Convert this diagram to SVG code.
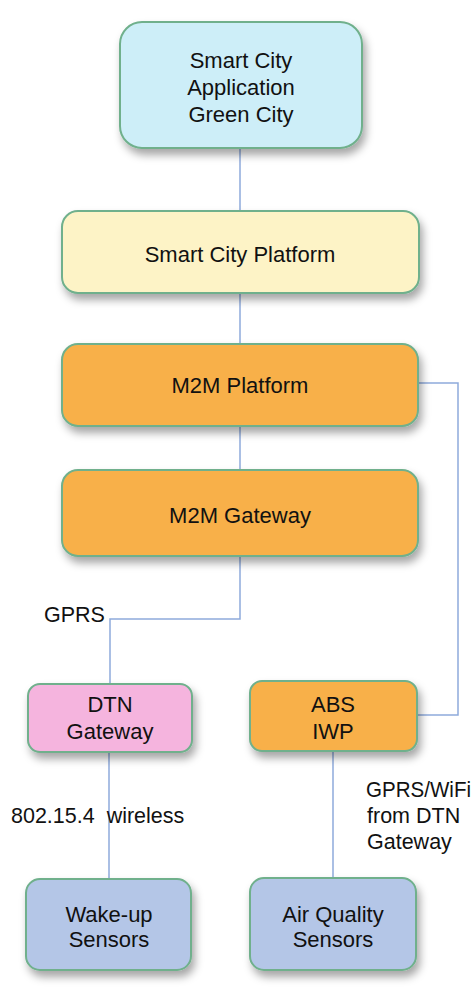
<svg xmlns="http://www.w3.org/2000/svg" width="474" height="997" viewBox="0 0 474 997">
<defs>
<filter id="sh" x="-10%" y="-10%" width="130%" height="140%">
<feDropShadow dx="3" dy="6" stdDeviation="4" flood-color="#000" flood-opacity="0.35"/>
</filter>
<style>
.box{stroke:#6fb08c;stroke-width:2;filter:url(#sh)}
.t{font-family:"Liberation Sans",Arial,sans-serif;font-size:22px;fill:#111;text-anchor:middle}
.l{font-family:"Liberation Sans",Arial,sans-serif;font-size:21.5px;fill:#111}
.c{fill:none;stroke:#8eaadb;stroke-width:1.5}
</style>
</defs>
<rect width="474" height="997" fill="#fff"/>
<g id="connectors">
<path class="c" d="M240 148V211"/>
<path class="c" d="M240 293V344"/>
<path class="c" d="M240 426V470"/>
<path class="c" d="M240 556V619H110V684"/>
<path class="c" d="M418 383H458V715H417"/>
<path class="c" d="M109 752V879"/>
<path class="c" d="M333 751V878"/>
</g>
<g id="app">
<rect class="box" x="120" y="22" width="242" height="126" rx="22" fill="#cdeef8"/>
<text class="t" x="241" y="68">Smart City</text>
<text class="t" x="241" y="95">Application</text>
<text class="t" x="241" y="122">Green City</text>
</g>
<g id="scp">
<rect class="box" x="62" y="211" width="357" height="82" rx="16" fill="#fdf3c6"/>
<text class="t" x="240" y="262">Smart City Platform</text>
</g>
<g id="m2mp">
<rect class="box" x="62" y="344" width="356" height="82" rx="16" fill="#f8b04a"/>
<text class="t" x="240" y="393">M2M Platform</text>
</g>
<g id="m2mg">
<rect class="box" x="62" y="470" width="356" height="86" rx="16" fill="#f8b04a"/>
<text class="t" x="240" y="523">M2M Gateway</text>
</g>
<g id="dtn">
<rect class="box" x="28" y="684" width="164" height="68" rx="12" fill="#f5b4de"/>
<text class="t" x="110" y="712">DTN</text>
<text class="t" x="110" y="739">Gateway</text>
</g>
<g id="abs">
<rect class="box" x="250" y="681" width="167" height="70" rx="12" fill="#f8b04a"/>
<text class="t" x="333" y="712">ABS</text>
<text class="t" x="333" y="739">IWP</text>
</g>
<g id="wake">
<rect class="box" x="26" y="879" width="165" height="91" rx="14" fill="#b4c6e7"/>
<text class="t" x="109" y="922">Wake-up</text>
<text class="t" x="109" y="947">Sensors</text>
</g>
<g id="air">
<rect class="box" x="250" y="878" width="166" height="92" rx="14" fill="#b4c6e7"/>
<text class="t" x="333" y="922">Air Quality</text>
<text class="t" x="333" y="947">Sensors</text>
</g>
<g id="labels">
<text class="l" x="44" y="622">GPRS</text>
<text class="l" x="11" y="823" xml:space="preserve">802.15.4  wireless</text>
<text class="l" x="366" y="797" textLength="105" lengthAdjust="spacingAndGlyphs">GPRS/WiFi</text>
<text class="l" x="367" y="823">from DTN</text>
<text class="l" x="367" y="849">Gateway</text>
</g>
</svg>
